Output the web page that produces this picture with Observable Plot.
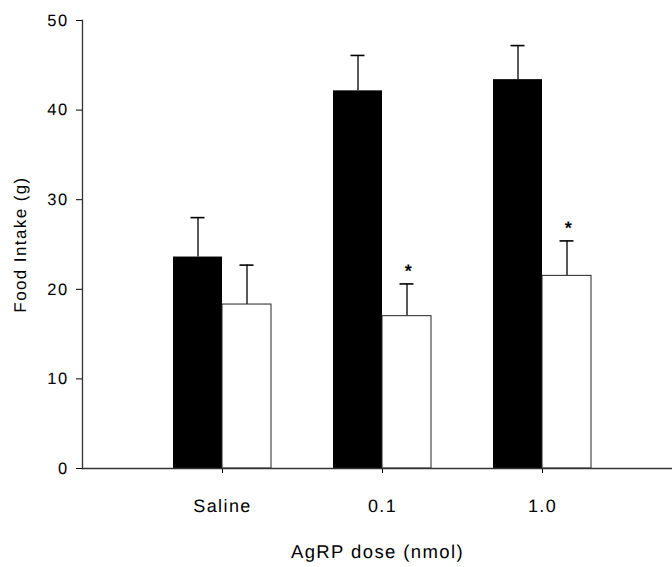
<!DOCTYPE html>
<html>
<head>
<meta charset="utf-8">
<script src="https://cdn.jsdelivr.net/npm/d3@7"></script>
<script src="https://cdn.jsdelivr.net/npm/@observablehq/plot@0.6"></script>
<style>
  html, body { margin: 0; padding: 0; background: #fff; }
  #chart svg { display: block; }
  #chart svg text { text-rendering: geometricPrecision; -webkit-font-smoothing: antialiased; }
</style>
</head>
<body>
<div id="chart"></div>
<script>
// Data
const doses = ["Saline", "0.1", "1.0"];
const blackMeans = [23.6, 42.15, 43.4];
const blackUpper = [28.0, 46.1, 47.2];
const whiteMeans = [18.3, 17.0, 21.5];
const whiteUpper = [22.7, 20.6, 25.4];
const significant = [false, true, true];
const yTicks = [0, 10, 20, 30, 40, 50];
const xTitle = "AgRP dose (nmol)";
const yTitle = "Food Intake (g)";

const rows = doses.map((d, i) => ({
  dose: d,
  black: blackMeans[i],
  blackHi: blackUpper[i],
  white: whiteMeans[i],
  whiteHi: whiteUpper[i],
  sig: significant[i]
}));
const sigRows = rows.filter(r => r.sig);

const half = 24.5; // half of the band width
const font = "Liberation Sans, Arial, sans-serif";

const plot = Plot.plot({
  width: 672,
  height: 567,
  marginLeft: 82,
  marginRight: 0,
  marginTop: 20,
  marginBottom: 99,
  style: {fontFamily: font, fontSize: "17px", color: "#000", background: "#fff", letterSpacing: "1.4px"},
  x: {type: "band", domain: doses, range: [173, 591], paddingInner: 0.3875, paddingOuter: 0, label: null},
  y: {domain: [0, 50], label: null},
  marks: [
    // error bars (upward only)
    Plot.ruleX(rows, {x: "dose", y1: "black", y2: "blackHi", dx: -half, stroke: "#000", strokeWidth: 1.3}),
    Plot.tickY(rows, {x: "dose", y: "blackHi", dx: -half, insetLeft: 42, insetRight: 42, stroke: "#000", strokeWidth: 1.6}),
    Plot.ruleX(rows, {x: "dose", y1: "white", y2: "whiteHi", dx: half, stroke: "#000", strokeWidth: 1.3}),
    Plot.tickY(rows, {x: "dose", y: "whiteHi", dx: half, insetLeft: 42, insetRight: 42, stroke: "#000", strokeWidth: 1.6}),
    // bars
    Plot.barY(rows, {x: "dose", y: "black", fill: "#000", insetRight: 49}),
    Plot.barY(rows, {x: "dose", y: "white", fill: "#fff", stroke: "#222", strokeWidth: 1, insetLeft: 49}),
    // significance asterisks
    Plot.text(sigRows, {x: "dose", y: "whiteHi", text: () => "*", dx: half + 2, dy: -13, fontSize: 18, fontWeight: "bold", fill: "#000"}),
    // axes
    Plot.axisY({ticks: yTicks, tickSize: 6, tickPadding: 8, fontSize: 16.5, label: null}),
    Plot.axisX({tickSize: 5, tickPadding: 26, fontSize: 18, label: null}),
    Plot.frame({anchor: "left", stroke: "#333", strokeWidth: 1.3}),
    Plot.frame({anchor: "bottom", stroke: "#333", strokeWidth: 1.3}),
    // axis titles
    Plot.text([xTitle], {frameAnchor: "bottom", text: d => d, dy: 89, fontSize: 18.5, fill: "black"}),
    Plot.text([yTitle], {frameAnchor: "left", textAnchor: "middle", text: d => d, rotate: -90, dx: -62, fontSize: 17, fill: "black"})
  ]
});
document.getElementById("chart").appendChild(plot);
</script>
</body>
</html>
